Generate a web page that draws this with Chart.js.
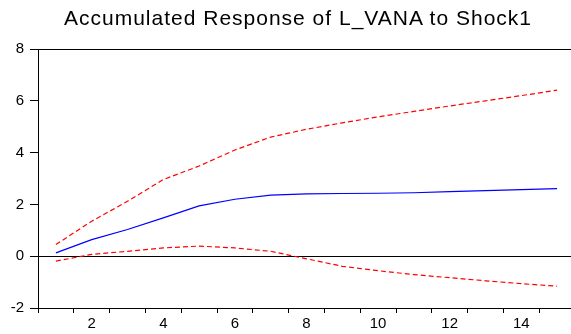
<!DOCTYPE html>
<html>
<head>
<meta charset="utf-8">
<script src="https://cdn.jsdelivr.net/npm/chart.js@4/dist/chart.umd.min.js"></script>
<style>
  html, body { margin: 0; padding: 0; background: #fff; overflow: hidden; }
  #wrap { position: relative; width: 575px; height: 334px; }
  #title {
    position: absolute; left: 0; width: 596px; top: 7px;
    text-align: center; font: 21px "Liberation Sans", Arial, sans-serif;
    line-height: 21px; letter-spacing: 1px; color: #000;
  }
</style>
</head>
<body>
<div id="wrap">
  <div id="title">Accumulated Response of L_VANA to Shock1</div>
  <canvas id="myChart" width="575" height="334"></canvas>
</div>
<script>
const periods = ['1', '2', '3', '4', '5', '6', '7', '8', '9', '10', '11', '12', '13', '14', '15'];
const response = [0.13, 0.64, 1.03, 1.48, 1.94, 2.2, 2.36, 2.41, 2.42, 2.43, 2.45, 2.49, 2.53, 2.57, 2.61];
const upperBand = [0.45, 1.35, 2.12, 2.96, 3.48, 4.1, 4.6, 4.9, 5.15, 5.38, 5.59, 5.8, 6.0, 6.2, 6.41];
const lowerBand = [-0.19, 0.07, 0.19, 0.32, 0.39, 0.32, 0.19, -0.1, -0.39, -0.56, -0.71, -0.83, -0.95, -1.06, -1.16];
const yTicks = [-2, 0, 2, 4, 6, 8];

const font = { family: '"Liberation Sans", Arial, sans-serif', size: 15 };

new Chart('myChart', {
  type: 'line',
  data: {
    labels: periods,
    datasets: [
      { data: response, borderColor: '#0000ff', borderWidth: 1.2, pointRadius: 0, tension: 0 },
      { data: upperBand, borderColor: '#ff0000', borderWidth: 1.2, borderDash: [5, 3], pointRadius: 0, tension: 0 },
      { data: lowerBand, borderColor: '#ff0000', borderWidth: 1.2, borderDash: [5, 3], pointRadius: 0, tension: 0 }
    ]
  },
  options: {
    responsive: false,
    animation: false,
    events: [],
    layout: { padding: { top: 49, right: 0, left: 0, bottom: 0 } },
    plugins: { legend: { display: false }, tooltip: { enabled: false }, title: { display: false } },
    scales: {
      x: {
        offset: true,
        grid: { offset: true, drawOnChartArea: false, drawTicks: true, tickLength: 5, color: '#000' },
        border: { color: '#000', width: 1 },
        ticks: {
          color: '#000', font: font, padding: 2, autoSkip: false, maxRotation: 0,
          callback: (v, i) => (i % 2 === 1 ? periods[i] : '')
        },
        afterFit: s => { s.height = 26; }
      },
      y: {
        min: yTicks[0],
        max: yTicks[yTicks.length - 1],
        afterBuildTicks: s => { s.ticks = yTicks.map(v => ({ value: v })); },
        grid: {
          drawTicks: true, tickLength: 8, tickColor: '#000',
          color: c => (c.tick.value === 0 || c.tick.value === 8 ? '#000' : 'rgba(0,0,0,0)')
        },
        border: { color: '#000', width: 1 },
        ticks: { color: '#000', font: font, padding: 6 },
        afterFit: s => { s.width = 38; }
      }
    }
  }
});
</script>
</body>
</html>
